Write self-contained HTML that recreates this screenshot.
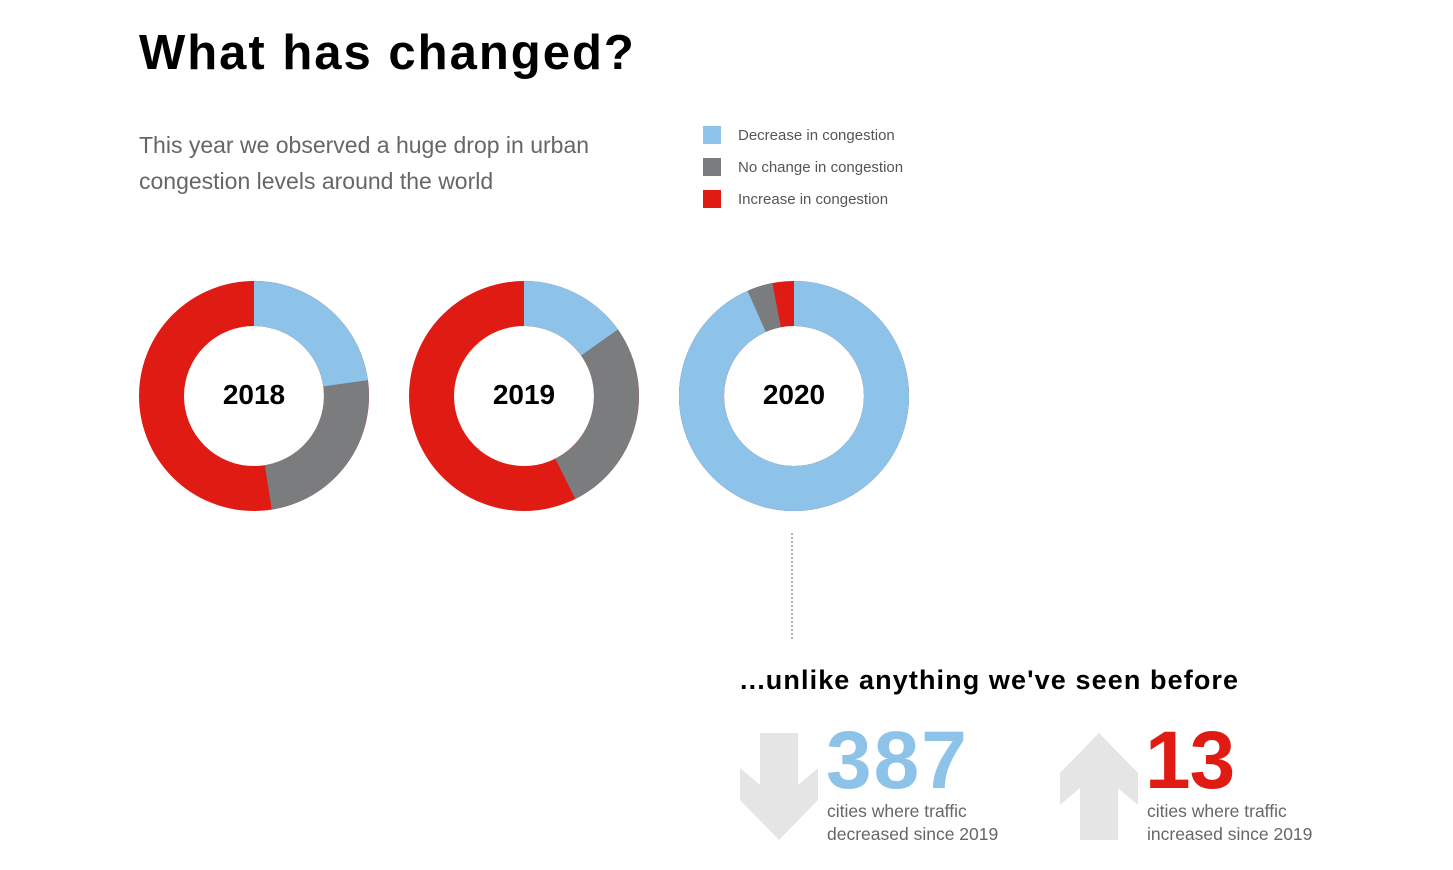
<!DOCTYPE html>
<html><head><meta charset="utf-8"><style>
body{margin:0;width:1453px;height:870px;background:#fff;position:relative;overflow:hidden;font-family:"Liberation Sans",sans-serif}
.a{position:absolute;white-space:nowrap}
</style></head><body>
<div class="a" style="left:139px;top:25px;font-size:49px;font-weight:bold;color:#000;letter-spacing:2px">What has changed?</div>
<div class="a" style="left:139px;top:127px;font-size:23px;line-height:36px;color:#666">This year we observed a huge drop in urban<br>congestion levels around the world</div>
<div class="a" style="left:703px;top:126px;width:18px;height:18px;background:#8dc2e9"></div>
<div class="a" style="left:738px;top:127px;font-size:15px;color:#555">Decrease in congestion</div>
<div class="a" style="left:703px;top:158px;width:18px;height:18px;background:#7a7c7e"></div>
<div class="a" style="left:738px;top:159px;font-size:15px;color:#555">No change in congestion</div>
<div class="a" style="left:703px;top:190px;width:18px;height:18px;background:#e01b14"></div>
<div class="a" style="left:738px;top:191px;font-size:15px;color:#555">Increase in congestion</div>
<svg class="a" style="left:0;top:0" width="1453" height="870">
<g fill="none" stroke-width="45">
<g transform="rotate(-90 254 396)">
<circle cx="254" cy="396" r="92.5" stroke="#e01b14"/>
<circle cx="254" cy="396" r="92.5" stroke="#7a7c7e" stroke-dasharray="276.1 1000"/>
<circle cx="254" cy="396" r="92.5" stroke="#8dc2e9" stroke-dasharray="132.4 1000"/>
</g>
<g transform="rotate(-90 524 396)">
<circle cx="524" cy="396" r="92.5" stroke="#e01b14"/>
<circle cx="524" cy="396" r="92.5" stroke="#7a7c7e" stroke-dasharray="247.7 1000"/>
<circle cx="524" cy="396" r="92.5" stroke="#8dc2e9" stroke-dasharray="88.2 1000"/>
</g>
<g transform="rotate(-90 794 396)">
<circle cx="794" cy="396" r="92.5" stroke="#e01b14"/>
<circle cx="794" cy="396" r="92.5" stroke="#7a7c7e" stroke-dasharray="563.5 1000"/>
<circle cx="794" cy="396" r="92.5" stroke="#8dc2e9" stroke-dasharray="542.5 1000"/>
</g>
</g>
<g font-family="Liberation Sans, sans-serif" font-weight="bold" font-size="28" text-anchor="middle" fill="#000">
<text x="254" y="404">2018</text><text x="524" y="404">2019</text><text x="794" y="404">2020</text>
</g>
<line x1="792" y1="533" x2="792" y2="640" stroke="#999" stroke-width="1.5" stroke-dasharray="2 2"/>
<polygon points="760,733 798,733 798,785 818,768 818,800 779,840 740,800 740,768 760,785" fill="#e5e5e5"/>
<polygon points="1099,733 1138,773 1138,805 1118,788 1118,840 1080,840 1080,788 1060,805 1060,773" fill="#e5e5e5"/>
</svg>
<div class="a" style="left:740px;top:665px;font-size:27px;font-weight:bold;color:#000;letter-spacing:1.1px">...unlike anything we've seen before</div>
<div class="a" style="left:826px;top:716px;font-size:82px;font-weight:bold;color:#8dc2e9;line-height:90px;letter-spacing:2px">387</div>
<div class="a" style="left:1145px;top:716px;font-size:82px;font-weight:bold;color:#e01b14;line-height:90px;letter-spacing:-1px">13</div>
<div class="a" style="left:827px;top:800px;font-size:17.5px;line-height:23px;color:#666">cities where traffic<br>decreased since 2019</div>
<div class="a" style="left:1147px;top:800px;font-size:17.5px;line-height:23px;color:#666">cities where traffic<br>increased since 2019</div>
</body></html>
